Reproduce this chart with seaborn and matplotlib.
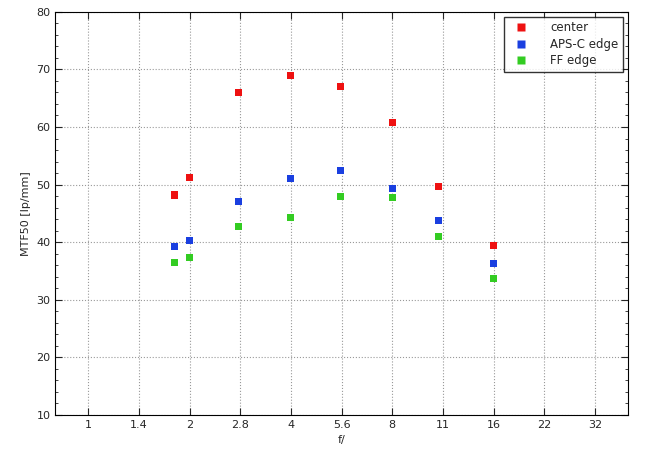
import numpy as np
import pandas as pd
import seaborn as sns
from matplotlib import pyplot as plt

apertures = [1.8, 2, 2.8, 4, 5.6, 8, 11, 16]
center = [48.2, 51.2, 66.0, 69.0, 67.0, 60.8, 49.6, 39.4]
apsc_edge = [39.3, 40.3, 47.0, 51.0, 52.5, 49.4, 43.7, 36.3]
ff_edge = [36.5, 37.3, 42.7, 44.3, 48.0, 47.7, 41.0, 33.7]
tick_labels = ["1", "1.4", "2", "2.8", "4", "5.6", "8", "11", "16", "22", "32"]

rows = []
for name, vals in [("center", center), ("APS-C edge", apsc_edge), ("FF edge", ff_edge)]:
    for f, v in zip(apertures, vals):
        rows.append({"f": f, "mtf": v, "series": name})
df = pd.DataFrame(rows)

sns.set_style("white")
plt.rcParams['font.family'] = ['DejaVu Sans']
fig, ax = plt.subplots(figsize=(6.5, 4.55), dpi=100)
fig.subplots_adjust(left=0.085, right=0.966, top=0.974, bottom=0.088)

ax.set_xscale('log', base=2)
sns.scatterplot(data=df, x="f", y="mtf", hue="series", marker="s", s=26,
                palette={"center": "#ee1111", "APS-C edge": "#1a3fe0", "FF edge": "#33cc22"},
                edgecolor="none", ax=ax, zorder=3)

stops = [2 ** (i / 2) for i in range(len(tick_labels))]
ax.set_xticks(stops)
ax.set_xticklabels(tick_labels, fontsize=8)
ax.minorticks_off()
ax.set_xlim(2 ** (-0.325), 2 ** 5.325)
ax.set_ylim(10, 80)
ax.set_yticks(range(10, 81, 10))
ax.set_yticks(np.arange(10, 80, 2), minor=True)
ax.tick_params(axis='y', which='major', labelsize=8, direction='in', length=5, left=True, right=True)
ax.tick_params(axis='y', which='minor', direction='in', length=2.5, left=True, right=True)
ax.tick_params(axis='x', direction='in', length=5, bottom=True, top=True, labelsize=8)
ax.grid(True, linestyle=':', color='#999999', linewidth=0.8)
for s in ax.spines.values():
    s.set_color('black')
    s.set_linewidth(0.8)
ax.set_xlabel("f/", fontsize=8)
ax.set_ylabel("MTF50 [lp/mm]", fontsize=8)

ax.legend(title=None, loc="upper right", fontsize=8.5, frameon=True,
          fancybox=False, edgecolor='black', handletextpad=1.5,
          borderaxespad=0.4, labelspacing=0.3)

fig.savefig("out.png")
